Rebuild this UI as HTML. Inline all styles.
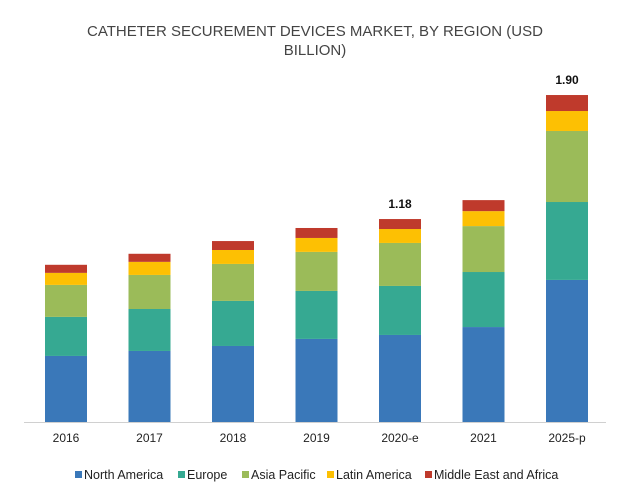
<!DOCTYPE html>
<html><head><meta charset="utf-8"><style>
body{margin:0;background:#fff;font-family:"Liberation Sans",sans-serif;}
svg text{font-family:"Liberation Sans",sans-serif;}
</style></head><body>
<svg id="chart" width="630" height="490" xmlns="http://www.w3.org/2000/svg">
<text x="315" y="36" text-anchor="middle" font-size="15" fill="#444">CATHETER SECUREMENT DEVICES MARKET, BY REGION (USD</text>
<text x="315" y="55" text-anchor="middle" font-size="15" fill="#444">BILLION)</text>
<line x1="24" y1="422.5" x2="606" y2="422.5" stroke="#d0d0d0" stroke-width="1"/>
<g id="bars"></g>
<g id="legend"></g>
</svg>
<script>
const categories=["2016","2017","2018","2019","2020-e","2021","2025-p"];
const seriesNames=["North America","Europe","Asia Pacific","Latin America","Middle East and Africa"];
const northAmerica=[0.384,0.413,0.442,0.483,0.506,0.552,0.826];
const europe=[0.227,0.244,0.262,0.279,0.285,0.320,0.453];
const asiaPacific=[0.186,0.198,0.215,0.227,0.250,0.267,0.413];
const latinAmerica=[0.070,0.076,0.081,0.081,0.081,0.087,0.116];
const middleEastAfrica=[0.047,0.047,0.052,0.058,0.058,0.064,0.093];
const totalLabels=[null,null,null,null,"1.18",null,"1.90"];
const colors=["#3a78b9","#36a992","#9bbb59","#fdc003","#bf3a2c"];
const series=[northAmerica,europe,asiaPacific,latinAmerica,middleEastAfrica];
const NS="http://www.w3.org/2000/svg";
const base=422, pxPerUnit=172;
const y=v=>base-v*pxPerUnit;
const xc=i=>66+i*83.5;
const barW=42;
const g=document.getElementById('bars');
categories.forEach((c,i)=>{
  let cum=0;
  series.forEach((s,k)=>{
    const r=document.createElementNS(NS,'rect');
    
    
    r.setAttribute('x',xc(i)-barW/2);
    r.setAttribute('y',y(cum+s[i]));
    r.setAttribute('width',barW);
    r.setAttribute('height',s[i]*pxPerUnit);
    r.setAttribute('fill',colors[k]);
    g.appendChild(r);
    cum+=s[i];
  });
  const t=document.createElementNS(NS,'text');
  
  
  t.setAttribute('x',xc(i));t.setAttribute('y',442);
  t.setAttribute('text-anchor','middle');t.setAttribute('font-size','12');t.setAttribute('fill','#222');
  t.textContent=c;g.appendChild(t);
  if(totalLabels[i]){
    const l=document.createElementNS(NS,'text');
    
    
    l.setAttribute('x',xc(i));l.setAttribute('y',y(cum)-11);
    l.setAttribute('text-anchor','middle');l.setAttribute('font-size','12');l.setAttribute('font-weight','bold');l.setAttribute('fill','#111');
    l.textContent=totalLabels[i];g.appendChild(l);
  }
});
const lg=document.getElementById('legend');
const lx=[75,178,242,327,425];
seriesNames.forEach((n,k)=>{
  const r=document.createElementNS(NS,'rect');
  
  
  r.setAttribute('x',lx[k]);r.setAttribute('y',471);r.setAttribute('width',7);r.setAttribute('height',7);r.setAttribute('fill',colors[k]);
  lg.appendChild(r);
  const t=document.createElementNS(NS,'text');
  
  
  t.setAttribute('x',lx[k]+9);t.setAttribute('y',479);t.setAttribute('font-size','12.5');t.setAttribute('fill','#222');
  t.textContent=n;lg.appendChild(t);
});
</script>
</body></html>
